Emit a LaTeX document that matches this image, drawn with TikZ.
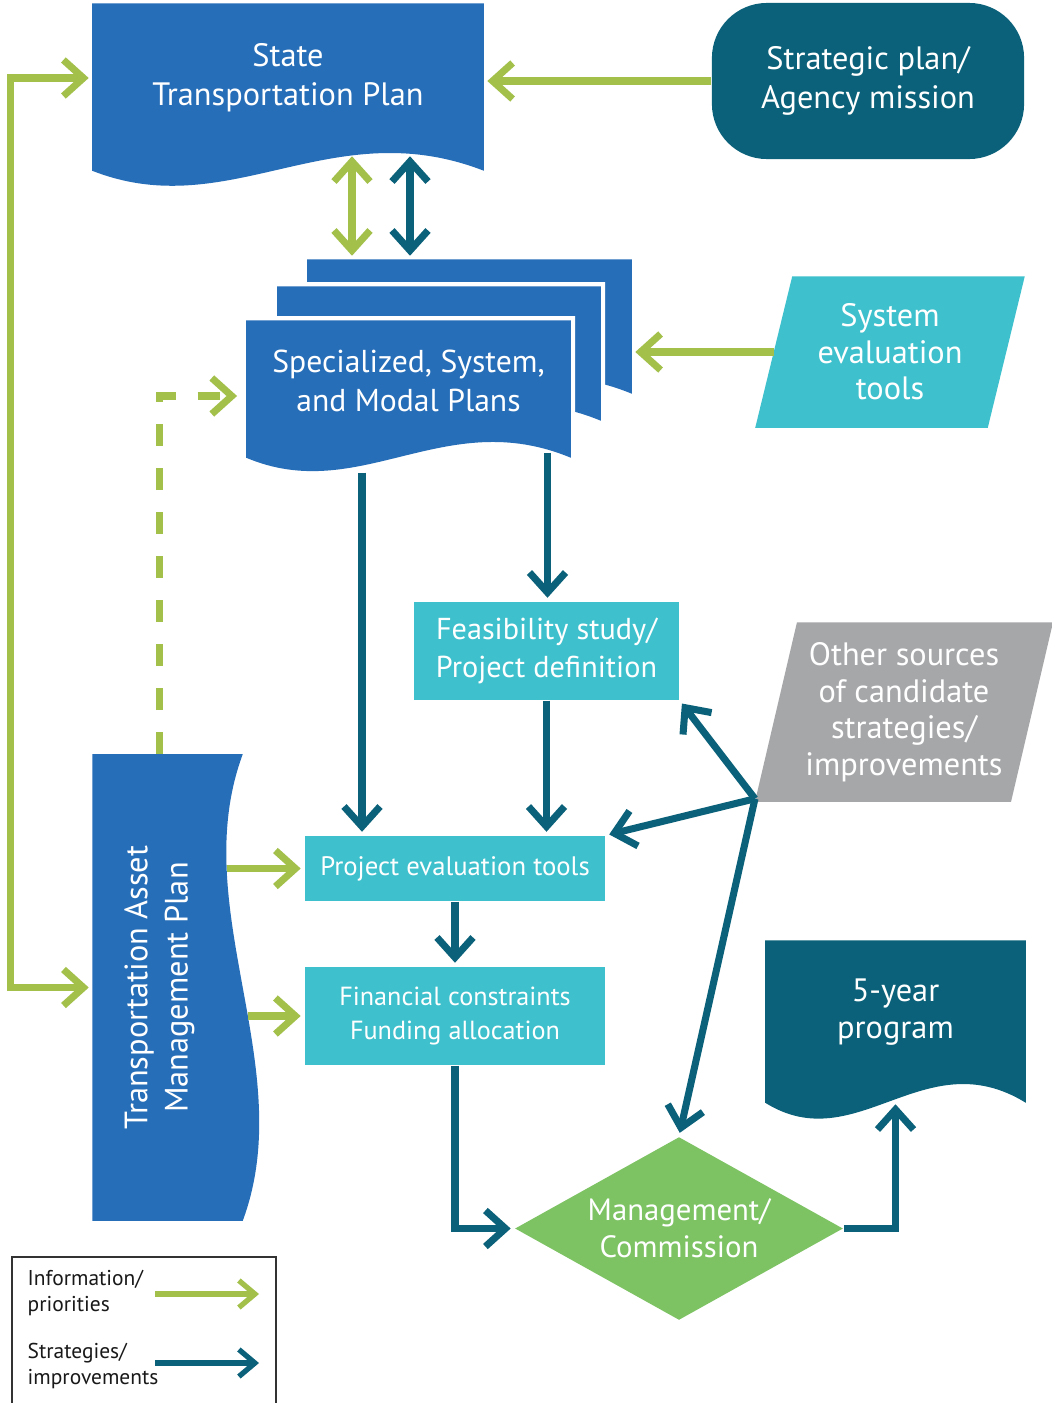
\documentclass[tikz,border=0pt]{standalone}
\usepackage{fontspec}
\setmainfont{PT Sans}
\usepackage{graphicx}
\usepackage{tikz}
\usetikzlibrary{calc, arrows.meta, shapes.geometric, backgrounds}

\definecolor{docblue}{HTML}{276EB8}
\definecolor{deepteal}{HTML}{0A6179}
\definecolor{aqua}{HTML}{3EC1CD}
\definecolor{leaf}{HTML}{A3C14A}
\definecolor{mgmtgreen}{HTML}{7DC363}
\definecolor{stone}{HTML}{A6A7A9}

% document shape, wavy bottom edge
\newcommand{\docshape}[3]{%
  \path[#2] (#1.north west) -- (#1.north east) -- ($(#1.south east)+(0,#3)$)
    .. controls ($(#1.south west)!0.61!(#1.south east)+(0,-2.3*#3)$)
            and ($(#1.south west)!0.35!(#1.south east)+(0,4*#3)$)
    .. ($(#1.south west)+(0,#3)$) -- cycle;}
% parallelogram round a node
\newcommand{\slantbox}[3]{%
  \path[#2] ($(#1.north west)+(#3,0)$) -- ($(#1.north east)+(#3,0)$)
    -- ($(#1.south east)-(#3,0)$) -- ($(#1.south west)-(#3,0)$) -- cycle;}

\tikzset{
  lbl/.style={text=white, align=center, inner sep=0pt, font=\fontsize{9.2}{11}\selectfont},
  box/.style={lbl, rectangle, fill=aqua},
  info/.style={draw=leaf, line width=2pt, shorten >=1pt},
  strat/.style={draw=deepteal, line width=2pt, shorten >=1pt},
  sheet/.style={fill=docblue, preaction={draw=white, line width=2.4pt}},
  key/.style={anchor=west, align=left, inner sep=0pt, text=black!90, font=\fontsize{6.1}{7.2}\selectfont},
}

\begin{document}
\begin{tikzpicture}[x=0.01cm, y=-0.01cm, >={Straight Barb[length=2mm, width=3.6mm]}]
        \useasboundingbox (0,0) rectangle (1051,1403);
        \begin{scope}[on background layer]
            \fill[white] (0,0) rectangle (1051,1403);
        \end{scope}

        \node[lbl, minimum width=3.90cm, minimum height=1.48cm] (stp) at (288,78) {State\\Transportation Plan};
        \node[lbl, fill=deepteal, rounded corners=0.55cm, minimum width=3.12cm, minimum height=1.56cm] (strat) at (868,81) {Strategic plan/\\Agency mission};
        \node[lbl, minimum width=3.23cm, minimum height=1.17cm] (smpback) at (469.5,318.5) {};
        \node[lbl, minimum width=3.22cm, minimum height=1.17cm] (smpmid) at (439,345.5) {};
        \node[lbl, font=\fontsize{9}{11}\selectfont, minimum width=3.23cm, minimum height=1.20cm] (smp) at (408.5,381) {Specialized, System,\\and Modal Plans};
        \node[lbl, font=\fontsize{9.2}{10.4}\selectfont, minimum width=2.31cm, minimum height=1.50cm] (set) at (890,352) {System\\evaluation\\tools};
        \node[box, font=\fontsize{8.6}{10.6}\selectfont, minimum width=2.65cm, minimum height=0.98cm] (feas) at (546.5,651) {Feasibility study/\\Project definition};
        \node[lbl, font=\fontsize{9.2}{10.4}\selectfont, minimum width=2.545cm, minimum height=1.78cm] (os) at (904,712) {Other sources\\of candidate\\strategies/\\improvements};
        \node[box, font=\fontsize{7.6}{9.4}\selectfont, minimum width=3.00cm, minimum height=0.65cm] (pet) at (455,868.5) {Project evaluation tools};
        \node[box, font=\fontsize{7.45}{9.4}\selectfont, minimum width=3.00cm, minimum height=0.98cm] (fcfa) at (455,1016) {Financial constraints\\Funding allocation};
        \node[lbl, font=\fontsize{9.2}{11.4}\selectfont, minimum width=1.33cm, minimum height=4.65cm] (tamp) at (159.5,987.5)
            {\rotatebox{90}{\begin{tabular}{@{}c@{}}Transportation Asset\\Management Plan\end{tabular}}};
        \node[lbl, diamond, aspect=1.79, fill=mgmtgreen, font=\fontsize{8.75}{10.5}\selectfont, minimum width=3.28cm, minimum height=1.83cm] (mgmt) at (679,1228.5) {Management/\\Commission};
        \node[lbl, font=\fontsize{9.2}{10.5}\selectfont, minimum width=2.59cm, minimum height=1.42cm] (prog) at (895.5,1012) {5-year\\program};

        \begin{scope}[on background layer]
            \docshape{stp}{fill=docblue}{18}
            \docshape{smpback}{fill=docblue}{16}
            \docshape{smpmid}{sheet}{16}
            \docshape{smp}{sheet}{16}
            \docshape{prog}{fill=deepteal}{19}
            \slantbox{set}{fill=aqua}{18.5}
            \slantbox{os}{fill=stone}{21}
            \fill[docblue] (tamp.north west) -- ($(tamp.north east)+(16,0)$)
                .. controls ($(tamp.north east)!0.33!(tamp.south east)+(-41,0)$)
                        and ($(tamp.north east)!0.67!(tamp.south east)+(73,0)$)
                .. ($(tamp.south east)+(16,0)$) -- (tamp.south west) -- cycle;
        \end{scope}

        % information / priorities
        \draw[info,->] (strat.west) -- (stp.east |- strat.west);
        \draw[info,<->, shorten <=1pt] (stp.west) -- ++(-82,0) |- (tamp.west);
        \draw[info,<->, shorten <=1pt] ($(stp.south)+(64,0)$) coordinate (ga) -- (ga |- smpback.north);
        \draw[info,->] (set.west) -- (smpback.east |- set.west);
        \draw[info,->, shorten >=2.6pt, dash pattern=on 2.2mm off 2.2mm] (tamp.north) |- ($(smp.west)+(0,15)$);
        \draw[info,->] (tamp.east |- pet.west) -- (pet.west);
        \draw[info,->] ($(tamp.east |- fcfa.west)+(21,0)$) -- (fcfa.west);

        % strategies / improvements
        \draw[strat,<->, shorten <=1pt] ($(stp.south)+(122,0)$) coordinate (ta) -- (ta |- smpback.north);
        \coordinate (smpa) at ($(smp.south)+(-46.5,31)$);
        \coordinate (smpb) at ($(smp.south)+(139,11)$);
        \draw[strat,->] (smpa) -- (smpa |- pet.north);
        \draw[strat,->] (smpb) -- (smpb |- feas.north);
        \draw[strat,->] (feas.south) -- (feas.south |- pet.north);
        \draw[strat,->] (pet.south) -- (fcfa.north);
        \draw[strat,->] (fcfa.south) |- (mgmt.west);
        \coordinate (progb) at ($(prog.south)+(0,17)$);
        \draw[strat,->] (mgmt.east) -| (progb);
        \coordinate (oshub) at ($(os.south west)+(-21,-3)$);
        \draw[strat,->] (oshub) -- (feas.south east);
        \draw[strat,->] (oshub) -- (pet.north east);
        \draw[strat,->] (oshub) -- (mgmt.north);
        % \draw[strat,->] (os.west) -- (feas.east);

        % key
        \node[draw=black!80, line width=0.4pt, inner sep=0pt, minimum width=2.64cm, minimum height=1.53cm] (legend) at (144,1333.5) {};
        \node[key] (infokey) at (27,1293) {Information/\\priorities};
        \node[key] (stratkey) at (27,1366) {Strategies/\\improvements};
        \coordinate (ika) at (155,1294);
        \coordinate (ikb) at (259,1294);
        \coordinate (ska) at (155,1363);
        \coordinate (skb) at (259,1363);
        \draw[info,line width=1.5pt, shorten >=0pt, -{Straight Barb[length=1.6mm, width=2.7mm]}] (ika) -- (ikb);
        \draw[strat,line width=1.5pt, shorten >=0pt, -{Straight Barb[length=1.6mm, width=2.7mm]}] (ska) -- (skb);
    \end{tikzpicture}
\end{document}
